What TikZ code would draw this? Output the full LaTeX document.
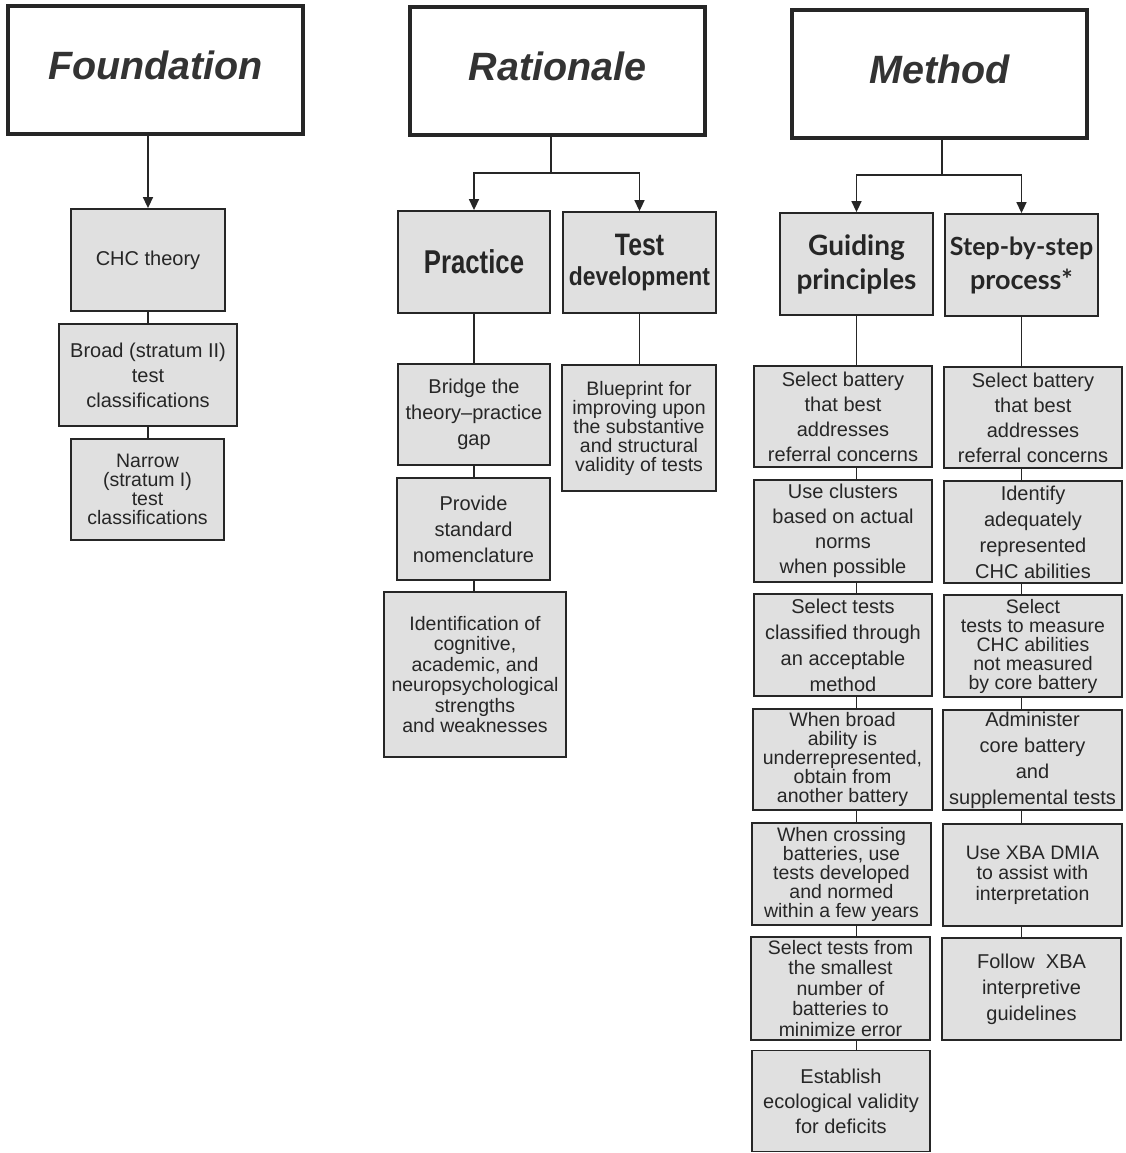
\documentclass[tikz,border=0pt]{standalone}
\usepackage{fontspec}
\setmainfont{Liberation Sans}
\newfontfamily\latofont{Lato}
\usetikzlibrary{arrows.meta}
\begin{document}
\begin{tikzpicture}[x=1pt,y=-1pt,
  hdr/.style={draw=black!85, line width=3.5pt, fill=white, inner sep=0pt,
    font=\fontsize{39.5}{44}\selectfont\bfseries\itshape, text=black!80},
  cbox/.style={draw=black!85, line width=1.8pt, fill=black!12, inner sep=0pt,
    align=center, text=black!85, font=\fontsize{20}{25}\selectfont},
  sp19/.style={font=\fontsize{19.5}{19}\selectfont},
  sp20/.style={font=\fontsize{19.5}{20.5}\selectfont},
  sp26/.style={font=\fontsize{20}{26}\selectfont},
  conn/.style={draw=black!85, line width=1.5pt},
  arr/.style={conn, -{Triangle[width=10pt,length=11pt]}}
]
\useasboundingbox (0,0) rectangle (1126,1153);

% headers
\node[hdr, minimum width=295pt, minimum height=128pt] (fnd) at (155.5,70) {\raisebox{9pt}{Foundation}};
\node[hdr, minimum width=295pt, minimum height=128pt] (rat) at (557.5,71) {\raisebox{9pt}{Rationale}};
\node[hdr, minimum width=295pt, minimum height=128pt] (met) at (939.5,74) {\raisebox{10pt}{Method}};

% foundation column
\node[cbox, minimum width=154pt, minimum height=102pt] (chc) at (148,260) {CHC theory};
\node[cbox, minimum width=178pt, minimum height=102pt] (broad) at (148,375) {Broad (stratum II)\\test\\classifications};
\node[cbox, sp19, minimum width=153pt, minimum height=101pt] (narrow) at (147.5,489.5) {Narrow\\(stratum I)\\test\\classifications};

% rationale column
\node[cbox, minimum width=152pt, minimum height=102pt] (prac) at (474,262)
  {\scalebox{0.78}[1]{\fontsize{33}{36}\selectfont\bfseries Practice}};
\node[cbox, minimum width=153pt, minimum height=101pt, font=\bfseries\fontsize{26}{30}\selectfont] (tdev) at (639.5,262.5)
  {\scalebox{0.8}[1]{\fontsize{31}{31}\selectfont Test}\\
   \scalebox{0.88}[1]{development}};
\node[cbox, sp26, minimum width=152pt, minimum height=101pt] (bridge) at (474,414.5) {Bridge the\\theory--practice\\gap};
\node[cbox, sp26, minimum width=153pt, minimum height=102pt] (provide) at (473.5,529) {Provide\\standard\\nomenclature};
\node[cbox, sp20, minimum width=182pt, minimum height=165pt] (ident) at (475,674.5)
  {Identification of\\cognitive,\\academic, and\\neuropsychological\\strengths\\and weaknesses};
\node[cbox, sp19, minimum width=154pt, minimum height=126pt] (blue) at (639,428)
  {Blueprint for\\improving upon\\the substantive\\and structural\\validity of tests};

% method headers
\node[cbox, minimum width=153pt, minimum height=102pt, font=\latofont\bfseries\fontsize{28}{34}\selectfont] (guid) at (856.5,264)
  {Guiding\\principles};
\node[cbox, minimum width=153pt, minimum height=102pt, font=\latofont\bfseries\fontsize{25}{34}\selectfont] (step) at (1021.5,265)
  {Step-by-step\\{\fontsize{27}{34}\selectfont process*}};

% guiding principles
\node[cbox, minimum width=178pt, minimum height=101pt] (g1) at (843,416.5) {Select battery\\that best\\addresses\\referral concerns};
\node[cbox, minimum width=178pt, minimum height=102pt] (g2) at (843,531) {Use clusters\\based on actual\\norms\\when possible};
\node[cbox, sp26, minimum width=178pt, minimum height=102pt] (g3) at (843,645) {Select tests\\classified through\\an acceptable\\method};
\node[cbox, sp19, minimum width=179pt, minimum height=101pt] (g4) at (842.5,759.5) {When broad\\ability is\\underrepresented,\\obtain from\\another battery};
\node[cbox, sp19, minimum width=179pt, minimum height=102pt] (g5) at (841.5,874) {When crossing\\batteries, use\\tests developed\\and normed\\within a few years};
\node[cbox, sp20, minimum width=179pt, minimum height=103pt] (g6) at (840.5,988.5) {Select tests from\\the smallest\\number of\\batteries to\\minimize error};
\node[cbox, minimum width=178pt, minimum height=101pt] (g7) at (841,1101) {Establish\\ecological validity\\for deficits};

% step-by-step process
\node[cbox, minimum width=178pt, minimum height=101pt] (s1) at (1033,417.5) {Select battery\\that best\\addresses\\referral concerns};
\node[cbox, sp26, minimum width=178pt, minimum height=102pt] (s2) at (1033,532) {Identify\\adequately\\represented\\CHC abilities};
\node[cbox, sp19, minimum width=178pt, minimum height=102pt] (s3) at (1033,646) {Select\\tests to measure\\CHC abilities\\not measured\\by core battery};
\node[cbox, sp26, minimum width=179pt, minimum height=100pt] (s4) at (1032.5,760) {Administer\\core battery\\and\\supplemental tests};
\node[cbox, sp20, minimum width=179pt, minimum height=102pt] (s5) at (1032.5,875) {Use XBA DMIA\\to assist with\\interpretation};
\node[cbox, sp26, minimum width=179pt, minimum height=102pt] (s6) at (1031.5,989) {Follow\ \ XBA\\interpretive\\guidelines};

% header arrows
\draw[arr] (chc.north |- fnd.south) -- (chc.north);

\coordinate (rj) at (551,173);
\draw[conn] (rat.south -| rj) -- (rj);
\draw[arr] (rj) -| (prac.north);
\draw[arr] (rj) -| (tdev.north);

\coordinate (mj) at (942,175);
\draw[conn] (met.south -| mj) -- (mj);
\draw[arr] (mj) -| (guid.north);
\draw[arr] (mj) -| (step.north);

% plain connectors
\draw[conn] (chc.south) -- (broad.north);
\draw[conn] (broad.south) -- (narrow.north -| broad.south);
\draw[conn] (prac.south) -- (bridge.north -| prac.south);
\draw[conn] (bridge.south) -- (provide.north -| bridge.south);
\draw[conn] (provide.south -| bridge.south) -- (ident.north -| bridge.south);
\draw[conn] (tdev.south) -- (blue.north -| tdev.south);

\draw[conn] (guid.south) -- (g1.north -| guid.south);
\draw[conn] (g1.south -| guid.south) -- (g2.north -| guid.south);
\draw[conn] (g2.south -| guid.south) -- (g3.north -| guid.south);
\draw[conn] (g3.south -| guid.south) -- (g4.north -| guid.south);
\draw[conn] (g4.south -| guid.south) -- (g5.north -| guid.south);
\draw[conn] (g5.south -| guid.south) -- (g6.north -| guid.south);
\draw[conn] (g6.south -| guid.south) -- (g7.north -| guid.south);

\draw[conn] (step.south) -- (s1.north -| step.south);
\draw[conn] (s1.south -| step.south) -- (s2.north -| step.south);
\draw[conn] (s2.south -| step.south) -- (s3.north -| step.south);
\draw[conn] (s3.south -| step.south) -- (s4.north -| step.south);
\draw[conn] (s4.south -| step.south) -- (s5.north -| step.south);
\draw[conn] (s5.south -| step.south) -- (s6.north -| step.south);
\end{tikzpicture}
\end{document}
